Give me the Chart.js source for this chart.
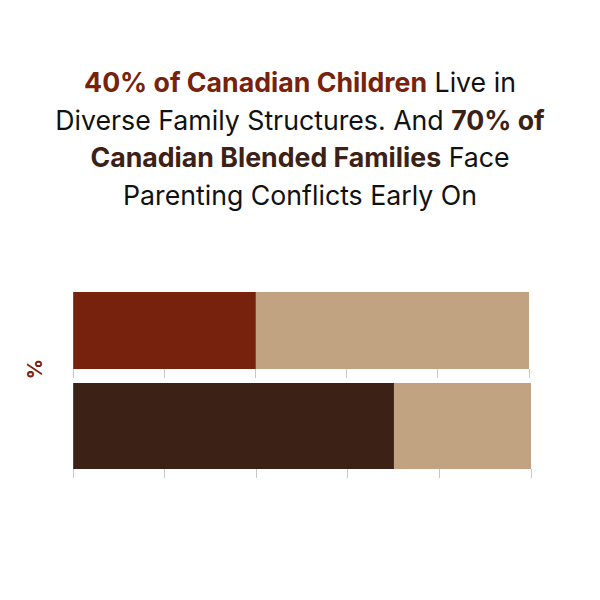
<!DOCTYPE html>
<html>
<head>
<meta charset="utf-8">
<script src="https://cdn.jsdelivr.net/npm/chart.js@4"></script>
<style>
  html, body { margin:0; padding:0; background:#fff; }
  body { width:600px; height:600px; position:relative; overflow:hidden; font-family: Inter, "Open Sans", sans-serif; }
  #title { position:absolute; left:0; top:64px; width:600px; text-align:center; font-size:26.7px; line-height:37.5px; color:#111; }
  #title .a { color:#76220c; font-weight:700; }
  #title .b { color:#3c2216; font-weight:700; }
  .wrap { position:absolute; }
  #ylab { position:absolute; left:22px; top:356px; width:26px; height:26px; transform:rotate(-90deg); color:#76220c; font-weight:700; font-size:20px; text-align:center; line-height:26px; }
</style>
</head>
<body>
<div id="title"><span class="a">40% of Canadian Children</span> Live in<br>Diverse Family Structures. And <span class="b">70% of<br>Canadian Blended Families</span> Face<br>Parenting Conflicts Early On</div>
<div id="ylab">%</div>
<div class="wrap" id="w1" style="left:63px; top:292px; width:476px; height:86px;"><canvas id="c1"></canvas></div>
<div class="wrap" id="w2" style="left:63px; top:383px; width:478px; height:95px;"><canvas id="c2"></canvas></div>
<script>
const categories = ["Canadian children in diverse family structures", "Canadian blended families facing early parenting conflicts"];
const highlightValues = [40, 70];
const remainderValues = [60, 30];
const xTicks = [0, 20, 40, 60, 80, 100];
const highlightColors = ["#76220c", "#3c2216"];
const remainderColor = "#c2a381";

function makeChart(id, i) {
  new Chart(document.getElementById(id), {
    type: 'bar',
    data: {
      labels: [categories[i]],
      datasets: [
        { label: 'Share', data: [highlightValues[i]], backgroundColor: highlightColors[i], barPercentage: 1, categoryPercentage: 1, borderWidth: 0 },
        { label: 'Remainder', data: [remainderValues[i]], backgroundColor: remainderColor, barPercentage: 1, categoryPercentage: 1, borderWidth: 0 }
      ]
    },
    options: {
      indexAxis: 'y',
      responsive: true,
      maintainAspectRatio: false,
      animation: false,
      layout: { padding: { left: 10, right: 10, top: 0, bottom: 0 } },
      plugins: { legend: { display: false }, tooltip: { enabled: false } },
      scales: {
        x: {
          stacked: true, min: 0, max: 100,
          afterBuildTicks: (s) => { s.ticks = xTicks.map(v => ({ value: v })); },
          ticks: { display: false },
          grid: { display: true, drawOnChartArea: false, drawTicks: true, tickLength: 9, color: '#c8c8c8', lineWidth: 1 },
          border: { display: false }
        },
        y: { stacked: true, display: false }
      }
    }
  });
}
makeChart('c1', 0);
makeChart('c2', 1);
</script>
</body>
</html>
